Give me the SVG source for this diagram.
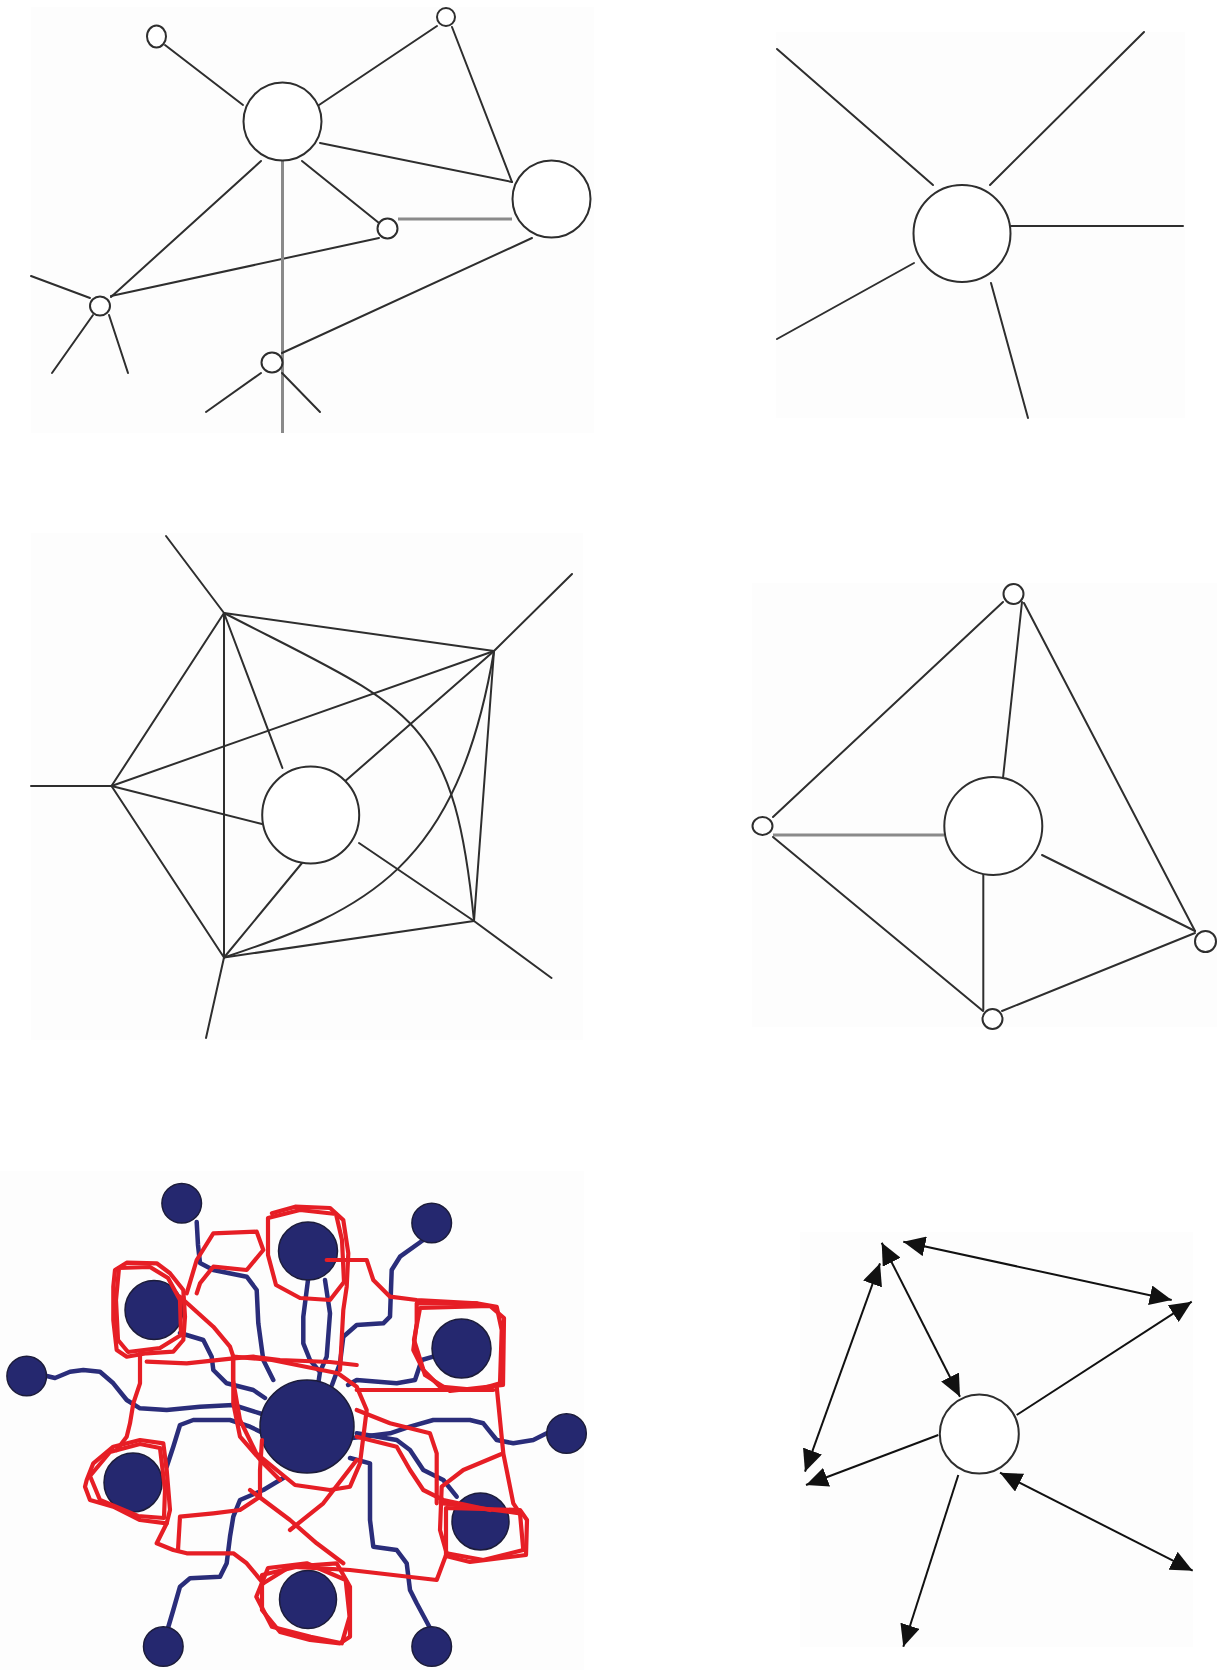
<svg xmlns="http://www.w3.org/2000/svg" width="1218" height="1670" viewBox="0 0 1218 1670">
<style>
.bg{fill:#fdfdfd;stroke:none}
.e{stroke:#2e2e2e;stroke-width:2;fill:none;stroke-linecap:round}
.g{stroke:#8a8a8a;stroke-width:3;fill:none}
.n{fill:#fff;stroke:#2e2e2e;stroke-width:2}
.blue{stroke:#2a2d7a;stroke-width:4.5;fill:none;stroke-linejoin:round;stroke-linecap:round}
.red{stroke:#e61e25;stroke-width:4.2;fill:none;stroke-linejoin:round;stroke-linecap:round}
.nv{fill:#25286f;stroke:#1c1c3a;stroke-width:1.5}
.a{stroke:#111;stroke-width:2;fill:none}
</style>
<defs>
<marker id="ah" viewBox="0 0 22 20" refX="22" refY="10" markerUnits="userSpaceOnUse" markerWidth="22" markerHeight="20" orient="auto-start-reverse">
<path d="M0,0 L22,10 L0,20 z" fill="#111"/>
</marker>
</defs>
<rect width="1218" height="1670" fill="#fff"/>
<g id="backgrounds">
<rect class="bg" x="31" y="7" width="563" height="426"/>
<rect class="bg" x="776" y="32" width="409" height="386"/>
<rect class="bg" x="31" y="533" width="552" height="507"/>
<rect class="bg" x="752" y="583" width="465" height="444"/>
<rect class="bg" x="0" y="1171" width="584" height="499"/>
<rect class="bg" x="800" y="1232" width="393" height="415"/>
</g>

<!-- Panel 1 -->
<g id="p1-connectors">
<line class="e" x1="165" y1="45" x2="243" y2="105"/>
<line class="e" x1="319" y1="105" x2="437" y2="26"/>
<line class="e" x1="452" y1="27" x2="512" y2="182"/>
<line class="e" x1="320" y1="143" x2="512" y2="182"/>
<line class="e" x1="302" y1="161" x2="379" y2="223"/>
<line class="g" x1="398" y1="219" x2="512" y2="219"/>
<line class="e" x1="261" y1="161" x2="111" y2="297"/>
<line class="e" x1="111" y1="296" x2="379" y2="238"/>
<line class="g" x1="282.5" y1="161" x2="282.5" y2="433"/>
<line class="e" x1="532" y1="238" x2="282" y2="353"/>
<line class="e" x1="31" y1="276" x2="90" y2="298"/>
<line class="e" x1="93" y1="315" x2="52" y2="373"/>
<line class="e" x1="109" y1="315" x2="128" y2="373"/>
<line class="e" x1="261" y1="373" x2="206" y2="412"/>
<line class="e" x1="282" y1="373" x2="320" y2="412"/>
</g>
<g id="p1-A"><ellipse class="n" cx="156.5" cy="36.5" rx="9.5" ry="11"/></g>
<g id="p1-B"><ellipse class="n" cx="446" cy="17" rx="9" ry="9"/></g>
<g id="p1-C"><ellipse class="n" cx="282.5" cy="121.5" rx="39" ry="39"/></g>
<g id="p1-D"><ellipse class="n" cx="551.5" cy="199" rx="39" ry="38.5"/></g>
<g id="p1-E"><ellipse class="n" cx="387.5" cy="228.5" rx="10" ry="10"/></g>
<g id="p1-F"><ellipse class="n" cx="100" cy="306" rx="10" ry="9.5"/></g>
<g id="p1-G"><ellipse class="n" cx="272" cy="362.5" rx="10.5" ry="10"/></g>

<!-- Panel 2 -->
<g id="p2-connectors">
<line class="e" x1="777" y1="49" x2="933" y2="185"/>
<line class="e" x1="1144" y1="32" x2="990" y2="185"/>
<line class="e" x1="1011" y1="226" x2="1183" y2="226"/>
<line class="e" x1="777" y1="339" x2="914" y2="263"/>
<line class="e" x1="991" y1="283" x2="1028" y2="418"/>
</g>
<g id="p2-hub"><circle class="n" cx="962" cy="233.5" r="48.5"/></g>

<!-- Panel 3 -->
<g id="p3-connectors">
<line class="e" x1="224" y1="613" x2="166" y2="536"/>
<line class="e" x1="494" y1="651" x2="572" y2="574"/>
<line class="e" x1="111.5" y1="786" x2="31" y2="786"/>
<line class="e" x1="224" y1="957.5" x2="206" y2="1038"/>
<line class="e" x1="474" y1="921" x2="551.5" y2="978"/>
<line class="e" x1="224" y1="613" x2="494" y2="651"/>
<line class="e" x1="224" y1="613" x2="111.5" y2="786"/>
<line class="e" x1="224" y1="613" x2="224" y2="957.5"/>
<line class="e" x1="224" y1="613" x2="282.4" y2="768"/>
<path class="e" d="M224,613 C410.5,709.3 453.4,711.8 474,921"/>
<line class="e" x1="494" y1="651" x2="111.5" y2="786"/>
<line class="e" x1="494" y1="651" x2="343" y2="783"/>
<line class="e" x1="494" y1="651" x2="474" y2="921"/>
<path class="e" d="M494,651 C457.5,867.6 366.5,910.5 224,957.5"/>
<line class="e" x1="111.5" y1="786" x2="262" y2="824"/>
<line class="e" x1="111.5" y1="786" x2="224" y2="957.5"/>
<line class="e" x1="224" y1="957.5" x2="302" y2="863"/>
<line class="e" x1="224" y1="957.5" x2="474" y2="921"/>
<line class="e" x1="359" y1="843" x2="474" y2="921"/>
</g>
<g id="p3-hub"><circle class="n" cx="310.7" cy="815" r="48.5"/></g>

<!-- Panel 4 -->
<g id="p4-connectors">
<line class="e" x1="1003" y1="602" x2="773" y2="817"/>
<line class="e" x1="1022" y1="602" x2="1003" y2="778"/>
<line class="e" x1="1024" y1="603" x2="1195" y2="931"/>
<line class="g" x1="773" y1="835" x2="944" y2="835"/>
<line class="e" x1="773" y1="837" x2="983" y2="1011"/>
<line class="e" x1="983.3" y1="874" x2="983.3" y2="1010"/>
<line class="e" x1="1042" y1="855" x2="1195" y2="931"/>
<line class="e" x1="1002" y1="1011" x2="1195" y2="933"/>
</g>
<g id="p4-top"><circle class="n" cx="1013.5" cy="594" r="10"/></g>
<g id="p4-left"><ellipse class="n" cx="762.5" cy="826" rx="10" ry="9"/></g>
<g id="p4-right"><circle class="n" cx="1205.5" cy="941.5" r="10.5"/></g>
<g id="p4-bottom"><circle class="n" cx="992.5" cy="1019" r="10"/></g>
<g id="p4-hub"><circle class="n" cx="993.3" cy="826" r="49"/></g>

<!-- Panel 5 -->
<g id="p5-blue-links">
<path class="blue" d="M196.7,1222 L198,1245 L200,1263 L213.3,1270 L246.7,1276.7 L256.7,1290 L258.3,1323.3 L263.3,1360 L273.3,1380"/>
<path class="blue" d="M180,1333 L203.3,1340 L211.7,1356.7 L213.3,1370 L226.7,1383.3 L253.3,1390 L265,1398"/>
<path class="blue" d="M46.7,1376 L55,1378 L70,1371.7 L83.3,1370 L100,1371.7 L113.3,1383.3 L126.7,1400 L140,1408.3 L166.7,1410 L200,1406.7 L233.3,1405 L262,1414"/>
<path class="blue" d="M166.7,1466.7 L173.3,1446.7 L180,1425 L193.3,1420 L230,1420 L250,1426.7 L263,1433"/>
<path class="blue" d="M168,1628 L173.3,1610 L180,1586.7 L190,1578.3 L220,1576.7 L226.7,1563.3 L230,1536.7 L233.3,1516.7 L240,1500 L263.3,1490 L283.3,1478"/>
<path class="blue" d="M423.3,1240 L400,1256.7 L391.7,1270 L390,1316.7 L383.3,1323.3 L356.7,1325 L343.3,1336.7 L340,1363.3 L332,1385"/>
<path class="blue" d="M308,1280 L303.3,1316.7 L303.3,1343.3 L310,1360 L320,1372 M325,1280 L330,1313.3 L326.7,1356.7 L320,1372 L318,1385"/>
<path class="blue" d="M433.3,1356.7 L421.7,1360 L415,1380 L396.7,1383.3 L356.7,1380 L348,1385"/>
<path class="blue" d="M546.7,1433.3 L533.3,1440 L513.3,1443.3 L496.7,1440 L483.3,1423.3 L470,1420 L433.3,1420 L410,1426.7 L390,1433.3 L352,1438"/>
<path class="blue" d="M456.7,1496.7 L443.3,1480 L423.3,1470 L410,1450 L396.7,1440 L356.7,1433.3"/>
<path class="blue" d="M430,1628 L416.7,1603.3 L410,1590 L406.7,1563.3 L396.7,1550 L373.3,1546.7 L370,1520 L370,1463.3 L350,1458"/>
</g>
<g id="p5-hub"><ellipse class="nv" cx="307" cy="1426.5" rx="47" ry="46.5"/></g>
<g id="p5-n1"><ellipse class="nv" cx="308" cy="1251" rx="29.5" ry="29"/></g>
<g id="p5-n2"><ellipse class="nv" cx="154" cy="1310" rx="29" ry="29.5"/></g>
<g id="p5-n3"><ellipse class="nv" cx="461.5" cy="1348.5" rx="29.5" ry="29.5"/></g>
<g id="p5-n4"><ellipse class="nv" cx="133" cy="1482.5" rx="29" ry="29.5"/></g>
<g id="p5-n5"><ellipse class="nv" cx="480.5" cy="1521.5" rx="28.5" ry="28.5"/></g>
<g id="p5-n6"><ellipse class="nv" cx="308" cy="1599.5" rx="28.5" ry="29"/></g>
<g id="p5-o1"><circle class="nv" cx="181.7" cy="1203.3" r="19.8"/></g>
<g id="p5-o2"><circle class="nv" cx="431.7" cy="1223" r="19.8"/></g>
<g id="p5-o3"><circle class="nv" cx="26.7" cy="1376" r="19.8"/></g>
<g id="p5-o4"><circle class="nv" cx="566.5" cy="1433.5" r="19.8"/></g>
<g id="p5-o5"><circle class="nv" cx="163.3" cy="1646.5" r="19.8"/></g>
<g id="p5-o6"><circle class="nv" cx="431.7" cy="1646.5" r="19.8"/></g>
<g id="p5-red-loops">
<path class="red" d="M115,1270 L126.7,1262.7 L156.7,1263.3 L170,1273.3 L183.3,1290 L185,1316.7 L183.3,1340 L173.3,1351.7 L146.7,1353.3 L126.7,1356.7 L116.7,1350 L113.3,1320 L113.3,1286.7 Z"/>
<path class="red" d="M119,1268 L150,1267 L168,1278 L180,1300 L181,1335 L160,1348 L128,1352 L118,1340 L116,1300 Z"/>
<path class="red" d="M186.7,1293.3 L196.7,1260 L213.3,1233.3 L256.7,1231.7 L263.3,1250 L246.7,1270 L213.3,1266.7 L200,1283.3 L196.7,1293.3"/>
<path class="red" d="M180,1296.7 L213.3,1326.7 L230,1346.7 L233.3,1356.7 L233.3,1403.3 L240,1436.7 L263.3,1463.3 L280,1480"/>
<path class="red" d="M146.7,1361.7 L186.7,1363.3 L233.3,1358.3 L253.3,1356.7 L280,1360 L330,1362 L356.7,1365"/>
<path class="red" d="M140,1353.3 L140,1383.3 L133.3,1403.3 L130,1423.3 L126.7,1436.7 L116.7,1450"/>
<path class="red" d="M86.7,1480 L93.3,1463.3 L113.3,1446.7 L140,1440 L163.3,1443.3 L166.7,1470 L170,1510 L166.7,1523.3 L140,1520 L113.3,1506.7 L90,1500 L85,1486.7 Z"/>
<path class="red" d="M90,1476 L110,1452 L140,1444 L160,1448 L165,1490 L164,1518 L138,1516 L100,1500 Z"/>
<path class="red" d="M166.7,1523.3 L156.7,1543.3 L173.3,1550 L186.7,1553.3 L233.3,1553.3 L246.7,1563.3 L263.3,1583.3"/>
<path class="red" d="M178,1550 L180,1516.7 L213.3,1513.3 L240,1510 L260,1496.7 L260,1470 L262,1440"/>
<path class="red" d="M271.9,1213.3 L295.2,1206.7 L330.1,1208 L343.3,1220 L348.3,1253.3 L346.7,1286.7 L343.3,1310 L340,1370"/>
<path class="red" d="M268,1218 L300,1210 L336,1214 L342,1240 L344,1282 L330,1300 L300,1298 L276,1285 L268,1255 Z"/>
<path class="red" d="M326.7,1260 L366.7,1260 L373.3,1280 L390,1296.7 L416.7,1300 L476.7,1303.3"/>
<path class="red" d="M416.7,1303.3 L476.7,1303.3 L496.7,1306.7 L501.7,1330 L500,1383.3 L476.7,1390 L440,1386.7 L423.3,1370 L413.3,1350 L416.7,1323.3 Z"/>
<path class="red" d="M420,1308 L490,1306 L504,1318 L503,1385 L450,1391 L425,1375 L414,1340 Z"/>
<path class="red" d="M356.7,1390 L493.3,1390"/>
<path class="red" d="M496.7,1386.7 L503.3,1453.3 L513.3,1503.3 L520,1513.3 L523.3,1550 L483.3,1560 L446.7,1553.3 L440,1530 L441.7,1486.7 L463.3,1470 L503.3,1453.3"/>
<path class="red" d="M446,1508 L520,1510 L527,1520 L526,1555 L470,1562 L446,1556 Z"/>
<path class="red" d="M443.3,1503.3 L520,1513.3"/>
<path class="red" d="M356.7,1410 L390,1423.3 L430,1433.3 L436.7,1453.3 L436.7,1503.3"/>
<path class="red" d="M356.7,1436.7 L396.7,1446.7 L410,1470 L423.3,1490 L443.3,1500 L490,1510"/>
<path class="red" d="M263.3,1583.3 L290,1566.7 L350,1570 L436.7,1580 L446.7,1553.3"/>
<path class="red" d="M290,1530 L323.3,1503.3 L356.7,1460"/>
<path class="red" d="M250,1490 L290,1520 L316.7,1543.3 L343.3,1563.3"/>
<path class="red" d="M262,1575 L300,1566 L336.7,1563.3 L350,1586.7 L350,1636.7 L340,1643.3 L310,1640 L280,1632 L262,1610 Z"/>
<path class="red" d="M268,1568 L306.8,1563.3 L345.7,1580 L349.6,1616.7 L341.8,1643.3 L310.7,1636.7 L271.9,1626.7 L256.3,1596.7 Z"/>
<path class="red" d="M233,1356.7 L271.9,1360 L337.9,1373.3 L356.7,1386.7 L366.7,1410 L360,1463.3 L350,1486.7 L330,1490 L295,1485 L256.3,1453.3 L240,1420 L233,1380 Z"/>
</g>

<!-- Panel 6 -->
<g id="p6-connectors">
<line class="a" x1="960" y1="1396.7" x2="881.7" y2="1242.7" marker-start="url(#ah)" marker-end="url(#ah)"/>
<line class="a" x1="880" y1="1263.3" x2="805" y2="1471.7" marker-start="url(#ah)" marker-end="url(#ah)"/>
<line class="a" x1="903.3" y1="1241.7" x2="1171.7" y2="1300" marker-start="url(#ah)" marker-end="url(#ah)"/>
<line class="a" x1="1016.7" y1="1415" x2="1191.7" y2="1301.7" marker-end="url(#ah)"/>
<line class="a" x1="938.3" y1="1435" x2="806" y2="1485" marker-end="url(#ah)"/>
<line class="a" x1="958.3" y1="1475" x2="903.3" y2="1646.7" marker-end="url(#ah)"/>
<line class="a" x1="1000" y1="1472.7" x2="1192.7" y2="1570.7" marker-start="url(#ah)" marker-end="url(#ah)"/>
</g>
<g id="p6-hub"><circle class="n" cx="979.3" cy="1434" r="39.5"/></g>
</svg>
